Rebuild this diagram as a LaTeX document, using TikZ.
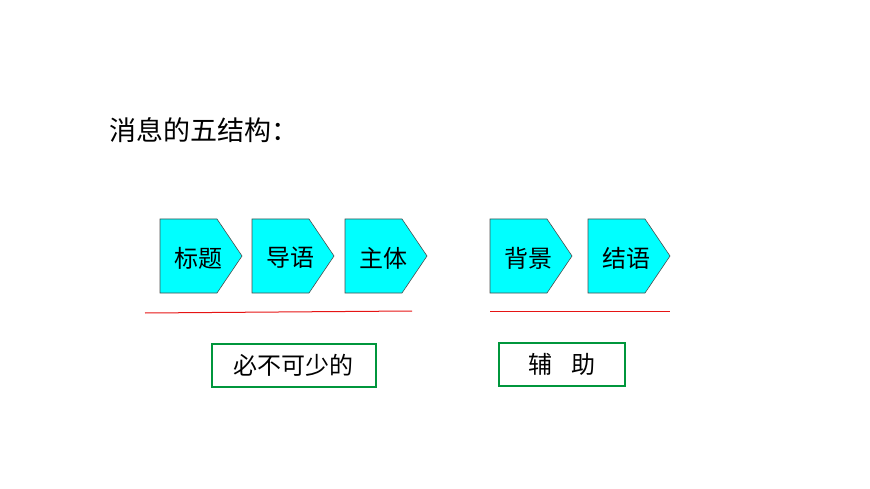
\documentclass[tikz,border=0pt]{standalone}
\usepackage{fontspec}
\newfontfamily\cjk{Noto Sans CJK SC}
\definecolor{cy}{RGB}{0,255,255}
\definecolor{rd}{RGB}{230,20,20}
\definecolor{gr}{RGB}{0,150,60}
\begin{document}
\begin{tikzpicture}[x=1pt,y=-1pt,
  penta/.style={fill=cy, draw=black!70, line width=0.6pt},
  lab/.style={font=\cjk\fontsize{24}{24}\selectfont, inner sep=0pt},
  redline/.style={draw=rd, line width=1pt},
  greenbox/.style={draw=gr, line width=1.8pt, minimum height=43pt, font=\cjk\fontsize{24}{24}\selectfont, anchor=north west}]
\useasboundingbox (0,0) rectangle (870,489);
\node[font=\cjk\fontsize{27}{27}\selectfont, anchor=west] (title) at (106,130) {消息的五结构：};
\foreach \x/\t/\n in {160/标题/a, 252/导语/b, 345/主体/c, 490/背景/d, 588/结语/e}{
  \draw[penta] (\x,219) -- ++(57,0) -- ++(25,37) -- ++(-25,37) -- ++(-57,0) -- cycle;
  \node[lab] (\n) at (\x+38,258) {\t};
}
\coordinate (r1a) at (145,313); \coordinate (r1b) at (412,311);
\draw[redline] (r1a) -- (r1b);
\coordinate (r2a) at (490,311); \coordinate (r2b) at (670,311);
\draw[redline] (r2a) -- (r2b);
\node[greenbox, minimum width=164pt] (g1) at (211,343) {必不可少的};
\node[greenbox, minimum width=126pt] (g2) at (498,342) {辅\hspace{0.8em}助};
\end{tikzpicture}
\end{document}
